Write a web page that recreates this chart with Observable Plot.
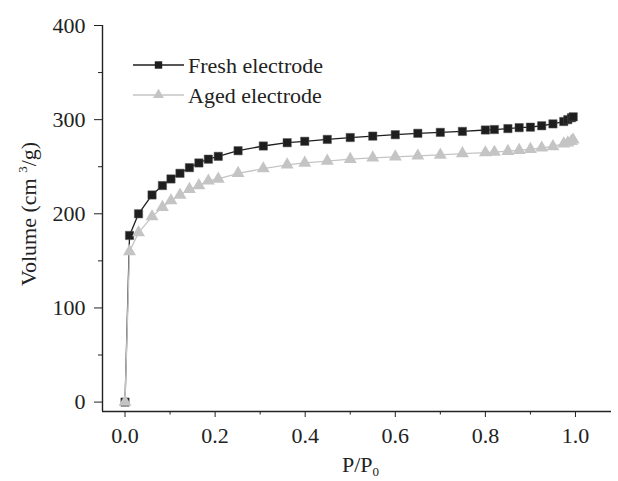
<!DOCTYPE html>
<html>
<head>
<meta charset="utf-8">
<script src="https://cdn.jsdelivr.net/npm/d3@7"></script>
<script src="https://cdn.jsdelivr.net/npm/@observablehq/plot@0.6"></script>
<style>
  body { margin: 0; background: #fff; }
  #chart { position: relative; width: 618px; height: 481px; font-family: "Liberation Serif", "DejaVu Serif", serif; }
  #chart svg, #chart svg text { font-family: "Liberation Serif", "DejaVu Serif", serif !important; }
</style>
</head>
<body>
<div id="chart"></div>
<script>
// Relative pressure P/P0 (shared by both series)
const pressure = [0.0, 0.01, 0.03, 0.06, 0.083, 0.102, 0.122, 0.143, 0.164, 0.185, 0.207, 0.251, 0.307,
  0.36, 0.399, 0.449, 0.5, 0.55, 0.6, 0.65, 0.7, 0.749, 0.8, 0.82, 0.85, 0.875, 0.9, 0.925, 0.95, 0.974, 0.983, 0.991, 0.995];
// Adsorbed volume (cm3/g)
const freshVolume = [0, 177, 200, 220, 230, 237, 243, 249, 254, 258, 261, 267, 272,
  275.5, 277, 279, 281, 282.5, 284, 285.5, 286.5, 287.5, 289, 289.5, 290.5, 291.5, 292, 293.5, 295.5, 298, 300, 302, 303];
const agedVolume = [0, 160, 180, 197, 207, 214, 220, 226, 230, 235, 237, 243, 248,
  252, 254, 256, 258, 259.5, 260.5, 261.5, 262.5, 264, 265, 265.5, 266.5, 267.5, 268.5, 270, 271.5, 274.5, 275.5, 277, 278.5];
const seriesNames = ["Fresh electrode", "Aged electrode"];
const xMajorTicks = [0, 0.2, 0.4, 0.6, 0.8, 1.0];
const xMinorTicks = [0.1, 0.3, 0.5, 0.7, 0.9];
const yMajorTicks = [0, 100, 200, 300, 400];
const yMinorTicks = [50, 150, 250, 350];
const xDomain = [-0.05, 1.08];
const yDomain = [-10, 400];

const fresh = pressure.map((p, i) => ({p, v: freshVolume[i]}));
const aged = pressure.map((p, i) => ({p, v: agedVolume[i]}));

const FRESH = "#1e1e1e", AGED = "#c4c4c4";
const FONT = "'Liberation Serif', 'DejaVu Serif', serif";

const plot = Plot.plot({
  width: 618,
  height: 481,
  marginLeft: 102,
  marginBottom: 70,
  marginTop: 25,
  marginRight: 7,
  style: {fontFamily: FONT, fontSize: "22px", color: "#222"},
  x: {domain: xDomain},
  y: {domain: yDomain},
  marks: [
    Plot.axisX({ticks: xMajorTicks, tickSize: 6, tickPadding: 10, tickFormat: d3.format(".1f"), label: null, fontSize: 22}),
    Plot.axisX({ticks: xMinorTicks, tickSize: 3.5, tickFormat: () => "", label: null}),
    Plot.axisY({ticks: yMajorTicks, tickSize: 8, tickPadding: 9, tickFormat: d3.format("d"), label: null, fontSize: 22}),
    Plot.axisY({ticks: yMinorTicks, tickSize: 4, tickFormat: () => "", label: null}),
    Plot.ruleY([yDomain[0]], {stroke: "#222", strokeWidth: 1.4}),
    Plot.ruleX([xDomain[0]], {stroke: "#222", strokeWidth: 1.4}),
    Plot.line(fresh, {x: "p", y: "v", stroke: FRESH, strokeWidth: 1.3}),
    Plot.dot(fresh, {x: "p", y: "v", symbol: "square", r: 4.7, fill: FRESH, stroke: "#555", strokeWidth: 0.5}),
    Plot.line(aged, {x: "p", y: "v", stroke: AGED, strokeWidth: 1.3}),
    Plot.dot(aged, {x: "p", y: "v", symbol: "triangle", r: 4.8, fill: AGED})
  ]
});
document.getElementById("chart").appendChild(plot);

const svg = d3.select(plot);
// Axis titles
const yl = svg.append("text")
  .attr("transform", "translate(36,214) rotate(-90)")
  .attr("text-anchor", "middle")
  .attr("font-family", FONT)
  .attr("font-size", 22).attr("fill", "#222");
yl.append("tspan").text("Volume (cm ");
yl.append("tspan").attr("font-size", 13).attr("dy", -9).text("3");
yl.append("tspan").attr("dy", 9).text("/g)");

const xl = svg.append("text")
  .attr("x", 342).attr("y", 472)
  .attr("text-anchor", "start")
  .attr("font-family", FONT)
  .attr("font-size", 22).attr("fill", "#222");
xl.append("tspan").text("P/P");
xl.append("tspan").attr("font-size", 13).attr("dy", 4).text("0");

// Legend
const legend = svg.append("g").attr("font-size", 22).attr("font-family", FONT);
const legendRows = [
  {name: seriesNames[0], color: FRESH, symbol: d3.symbolSquare, size: 55, y: 65},
  {name: seriesNames[1], color: AGED, symbol: d3.symbolTriangle, size: 50, y: 95}
];
for (const row of legendRows) {
  const g = legend.append("g").attr("transform", `translate(0,${row.y})`);
  g.append("line").attr("x1", 133).attr("x2", 184).attr("stroke", row.color).attr("stroke-width", 1.3);
  g.append("path").attr("transform", "translate(158.5,0)").attr("d", d3.symbol(row.symbol, row.size)()).attr("fill", row.color);
  g.append("text").attr("x", 188).attr("dy", "0.35em").attr("text-anchor", "start").attr("fill", "#222").text(row.name);
}
</script>
</body>
</html>
